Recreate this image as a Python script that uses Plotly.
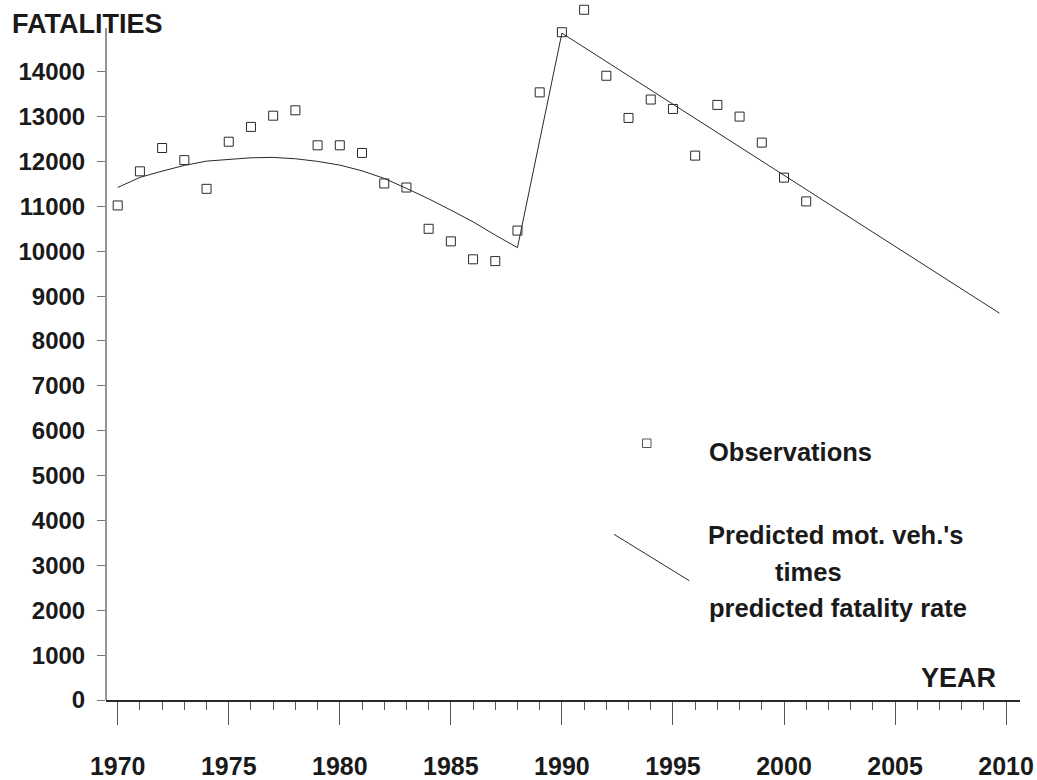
import plotly.graph_objects as go

# ---------------- data ----------------
obs_years = list(range(1970, 2002))
obs_fatalities = [11020, 11780, 12300, 12030, 11390, 12440, 12770, 13020,
                  13140, 12360, 12360, 12190, 11510, 11420, 10500, 10220,
                  9820, 9780, 10460, 13540, 14880, 15380, 13910, 12970,
                  13380, 13170, 12130, 13260, 13000, 12420, 11640, 11110]

pred_years = [1970, 1971, 1972, 1973, 1974, 1975, 1976, 1977, 1978, 1979,
              1980, 1981, 1982, 1983, 1984, 1985, 1986, 1987, 1988,
              1990, 2009.7]
pred_fatalities = [11420, 11645, 11785, 11912, 12008, 12053, 12082, 12091,
                   12060, 12002, 11919, 11792, 11623, 11400, 11168, 10916,
                   10655, 10359, 10080, 14860, 8620]

y_ticks = list(range(0, 15000, 1000))
x_ticks = list(range(1970, 2011, 5))
y_axis_top = 14973   # where the drawn y-axis line stops

# ---------------- layout geometry ----------------
# body margin is removed by post_script, so the figure starts at (0, 0)
OFF = 0
W, H = 1037 - OFF, 780 - OFF
L, R, T, B = 106 - OFF, 17, 0, 80
PW, PH = W - L - R, H - T - B

FONT = "Liberation Sans, Arial, sans-serif"
TXT = "#1a1a1a"
LINE = "#2a2a2a"


def px(x):
    """window x pixel -> paper fraction"""
    return (x - OFF - L) / PW


def py(y):
    """window y pixel -> paper fraction"""
    return (H - B - (y - OFF)) / PH


fig = go.Figure()

fig.add_trace(go.Scatter(
    x=pred_years, y=pred_fatalities, mode="lines",
    line=dict(color=LINE, width=1), showlegend=False, cliponaxis=False,
    hoverinfo="skip"))

fig.add_trace(go.Scatter(
    x=obs_years, y=obs_fatalities, mode="markers",
    marker=dict(symbol="square-open", size=9, color=LINE,
                line=dict(width=1, color=LINE)),
    showlegend=False, cliponaxis=False))

# y-axis line (stops below the top of the plotting area, as in the original)
fig.add_shape(type="line", xref="paper", yref="y",
              x0=0, x1=0, y0=0, y1=y_axis_top,
              line=dict(color=LINE, width=1))

# legend-like keys (drawn as decorations)
fig.add_shape(type="rect", xref="paper", yref="paper",
              x0=px(642.5), x1=px(651), y0=py(447.5), y1=py(439),
              line=dict(color="#555", width=1), fillcolor="rgba(0,0,0,0)")
fig.add_shape(type="line", xref="paper", yref="paper",
              x0=px(614), y0=py(534.3), x1=px(689.3), y1=py(580.7),
              line=dict(color=LINE, width=1))

ann_font = dict(family=FONT, size=25.5, color=TXT, weight="bold")
big_font = dict(family=FONT, size=27, color=TXT, weight="bold")
annotations = [
    dict(text="Observations", x=px(707), y=py(452), xanchor="left"),
    dict(text="Predicted mot. veh.'s", x=px(706), y=py(535), xanchor="left"),
    dict(text="times", x=px(773), y=py(572), xanchor="left"),
    dict(text="predicted fatality rate", x=px(707), y=py(608), xanchor="left"),
    dict(text="FATALITIES", x=px(10), y=py(24), xanchor="left", font=big_font),
    dict(text="YEAR", x=px(998), y=py(678), xanchor="right", font=big_font),
]
for a in annotations:
    fig.add_annotation(xref="paper", yref="paper", yanchor="middle",
                       showarrow=False, font=a.pop("font", ann_font), **a)

fig.update_layout(
    width=W, height=H,
    margin=dict(l=L, r=R, t=T, b=B, pad=0, autoexpand=False),
    paper_bgcolor="white", plot_bgcolor="white",
    font=dict(family=FONT, color=TXT),
    xaxis=dict(
        range=[1969.473, 2010.626], tickvals=x_ticks,
        ticktext=[str(v) for v in x_ticks],
        ticks="outside", ticklen=23, tickwidth=1, tickcolor="#555",
        showline=True, linecolor=LINE, linewidth=2,
        showgrid=False, zeroline=False, automargin=False,
        tickfont=dict(family=FONT, size=25, color=TXT, weight="bold"),
        ticklabelstandoff=20,
        minor=dict(dtick=1, tick0=1970, ticks="outside", ticklen=8,
                   tickwidth=1, tickcolor="#555", showgrid=False),
    ),
    yaxis=dict(
        range=[0, 15598], tickvals=y_ticks,
        ticktext=[str(v) for v in y_ticks],
        ticks="outside", ticklen=8, tickwidth=1, tickcolor="#777",
        showline=False, showgrid=False, zeroline=False, automargin=False,
        tickfont=dict(family=FONT, size=24, color=TXT, weight="bold"),
        ticklabelstandoff=7,
    ),
)

fig.write_html(
    "out.html",
    config={"displayModeBar": False},
    post_script="document.body.style.margin='0';"
                "document.body.style.overflow='hidden';",
)
